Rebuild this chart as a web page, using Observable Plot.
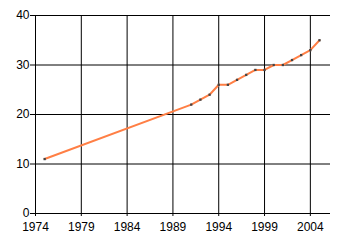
<!DOCTYPE html>
<html>
<head>
<meta charset="utf-8">
<script src="https://cdn.jsdelivr.net/npm/d3@7"></script>
<script src="https://cdn.jsdelivr.net/npm/@observablehq/plot@0.6"></script>
<style>
  html, body { margin: 0; padding: 0; background: #fff; }
</style>
</head>
<body>
<div id="chart"></div>
<script>
const years = [1975, 1991, 1992, 1993, 1994, 1995, 1996, 1997, 1998, 1999, 2000, 2001, 2002, 2003, 2004, 2005];
const values = [11, 22, 23, 24, 26, 26, 27, 28, 29, 29, 30, 30, 31, 32, 33, 35];
const xTicks = [1974, 1979, 1984, 1989, 1994, 1999, 2004];
const yTicks = [0, 10, 20, 30, 40];

const data = years.map((y, i) => ({year: y, value: values[i]}));

const chart = Plot.plot({
  width: 340,
  height: 245,
  marginLeft: 35,
  marginRight: 10,
  marginTop: 15,
  marginBottom: 32,
  style: {fontFamily: "'Liberation Sans Narrow', 'Liberation Sans', Arial, sans-serif", fontSize: "12px", color: "#000", background: "#fff"},
  x: {domain: [1974, 2006.2], label: null},
  y: {domain: [0, 40], label: null},
  marks: [
    Plot.gridX(xTicks, {stroke: "#000", strokeOpacity: 1}),
    Plot.gridY(yTicks, {stroke: "#000", strokeOpacity: 1}),
    Plot.axisX({ticks: xTicks, tickFormat: d => String(d), tickSize: 3, tickPadding: 6, label: null}),
    Plot.axisY({ticks: yTicks, tickSize: 5, tickPadding: 1, label: null}),
    Plot.line(data, {x: "year", y: "value", stroke: "#ff7f45", strokeWidth: 2}),
    Plot.dot(data, {x: "year", y: "value", symbol: "square", r: 1.3, fill: "#444", stroke: "none"})
  ]
});
document.getElementById("chart").appendChild(chart);
</script>
</body>
</html>
